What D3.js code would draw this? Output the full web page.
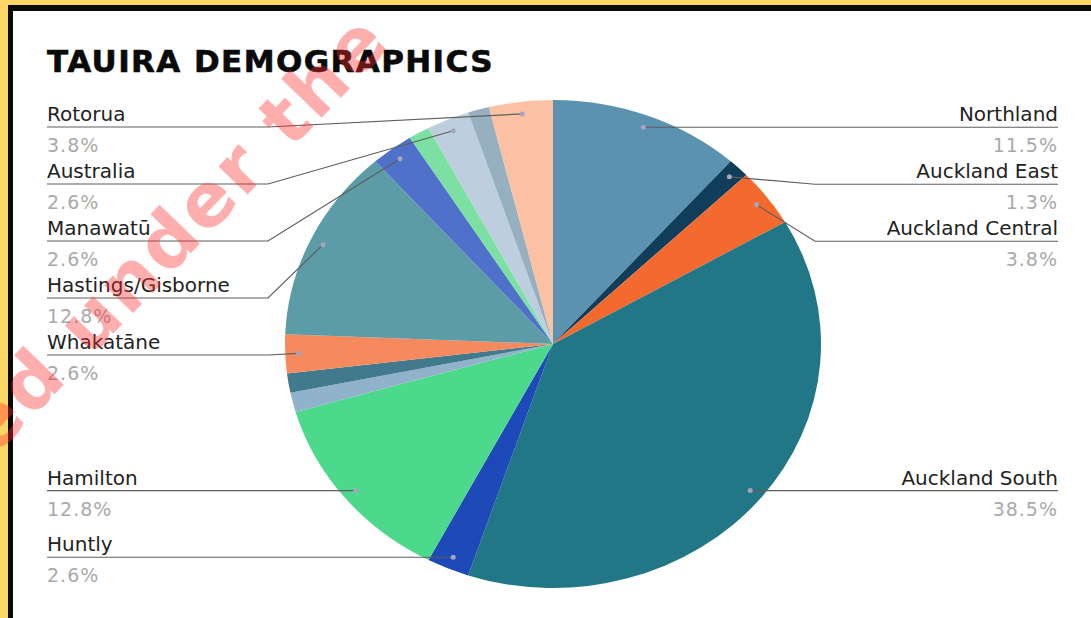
<!DOCTYPE html>
<html>
<head>
<meta charset="utf-8">
<script src="https://cdn.jsdelivr.net/npm/d3@7"></script>
<style>
  body { margin: 0; background: #fff; }
  svg { display: block; }
</style>
</head>
<body>
<div id="chart"></div>
<script>
// slices in clockwise order starting at 12 o'clock
var regions = ["Northland", "Auckland East", "Auckland Central", "Auckland South", "Huntly", "Hamilton",
    "(unlabelled 1)", "(unlabelled 2)", "Whakatāne", "Hastings/Gisborne", "Manawatū",
    "(unlabelled 3)", "Australia", "(unlabelled 4)", "Rotorua"]
var counts = [9, 1, 3, 30, 2, 10, 1, 1, 2, 10, 2, 1, 2, 1, 3]
var showLabel = [true, true, true, true, true, true, false, false, true, true, true, false, true, false, true]
var colors = ["#5a92b0", "#0f3d5a", "#f46a2e", "#217786", "#1d49b9", "#4cd98b",
    "#90b2cb", "#41798d", "#f6895d", "#5b9ca6", "#4f71c9",
    "#7ce0a3", "#bdcfdf", "#97b0c0", "#fcc1a2"]

var W = 1091, H = 618
var cx = 553, cy = 344, ry = 244, rx = 268

var svg = d3.select("#chart").append("svg")
    .attr("width", W)
    .attr("height", H)

svg.append("rect").attr("width", W).attr("height", H).attr("fill", "#fff")

// frame
svg.append("rect").attr("x", 0).attr("y", 0).attr("width", W).attr("height", 5).attr("fill", "#fdd766")
svg.append("rect").attr("x", 0).attr("y", 0).attr("width", 8).attr("height", H).attr("fill", "#fdd766")
svg.append("rect").attr("x", 8).attr("y", 5).attr("width", W - 8).attr("height", 6).attr("fill", "#0a0a0a")
svg.append("rect").attr("x", 8).attr("y", 5).attr("width", 5).attr("height", H).attr("fill", "#0a0a0a")

svg.append("text")
    .attr("x", 47)
    .attr("y", 72)
    .attr("font-family", "DejaVu Sans")
    .attr("font-weight", "bold")
    .attr("font-size", 31)
    .attr("letter-spacing", 1.4)
    .attr("fill", "#0a0a0a")
    .attr("stroke", "#0a0a0a")
    .attr("stroke-width", 0.6)
    .text("TAUIRA DEMOGRAPHICS")

var total = d3.sum(counts)
var data = regions.map(function(r, i){
    return { name: r, value: counts[i], color: colors[i], label: showLabel[i] }
})

var pie = d3.pie().sort(null).value(function(d){ return d.value; })
var arcs = pie(data)

var arc = d3.arc().innerRadius(0).outerRadius(ry)
var dotArc = d3.arc().innerRadius(ry * 0.95).outerRadius(ry * 0.95)
var sx = rx / ry

var pieG = svg.append("g")
    .attr("transform", "translate(" + cx + "," + cy + ") scale(" + sx + ",1)")

pieG.selectAll("path")
    .data(arcs)
    .enter()
    .append("path")
    .attr("d", arc)
    .attr("fill", function(d){ return d.data.color; })

// label layout
var fmt = function(v){ return d3.format(".1f")(v / total * 100) + "%"; }
var labels = arcs.filter(function(d){ return d.data.label; }).map(function(d){
    var c = dotArc.centroid(d)
    var mid = (d.startAngle + d.endAngle) / 2
    return { d: d, x: cx + c[0] * sx, y: cy + c[1], side: mid < Math.PI ? "right" : "left" }
})

var gap = 57, minY = 127
;["left", "right"].forEach(function(side){
    var list = labels.filter(function(l){ return l.side == side; })
        .sort(function(a, b){ return a.y - b.y; })
    var prev = minY - gap
    list.forEach(function(l){
        l.ly = Math.max(l.y, prev + gap)
        prev = l.ly
    })
})

var leftX = 47, leftElbow = 268, rightX = 1058, rightElbow = 815

var lab = svg.append("g")

lab.selectAll(".leader")
    .data(labels)
    .enter()
    .append("path")
    .attr("class", "leader")
    .attr("fill", "none")
    .attr("stroke", "#5e5e5e")
    .attr("stroke-width", 1.2)
    .attr("d", function(l){
        if (l.side == "right")
            return "M" + l.x + "," + l.y + "L" + rightElbow + "," + l.ly + "L" + rightX + "," + l.ly
        return "M" + l.x + "," + l.y + "L" + leftElbow + "," + l.ly + "L" + leftX + "," + l.ly
    })

lab.selectAll(".dot")
    .data(labels)
    .enter()
    .append("circle")
    .attr("class", "dot")
    .attr("cx", function(l){ return l.x; })
    .attr("cy", function(l){ return l.y; })
    .attr("r", 2.5)
    .attr("fill", "#a8a4bc")

lab.selectAll(".name")
    .data(labels)
    .enter()
    .append("text")
    .attr("class", "name")
    .attr("x", function(l){ return l.side == "right" ? rightX : leftX; })
    .attr("y", function(l){ return l.ly - 6; })
    .attr("text-anchor", function(l){ return l.side == "right" ? "end" : "start"; })
    .attr("font-family", "DejaVu Sans")
    .attr("font-size", 20)
    .attr("fill", "#222")
    .text(function(l){ return l.d.data.name; })

lab.selectAll(".pct")
    .data(labels)
    .enter()
    .append("text")
    .attr("class", "pct")
    .attr("x", function(l){ return l.side == "right" ? rightX : leftX; })
    .attr("y", function(l){ return l.ly + 25; })
    .attr("text-anchor", function(l){ return l.side == "right" ? "end" : "start"; })
    .attr("font-family", "DejaVu Sans")
    .attr("font-size", 19)
    .attr("letter-spacing", 1)
    .attr("fill", "#a9a9a9")
    .text(function(l){ return fmt(l.d.data.value); })

// watermark
svg.append("text")
    .attr("transform", "translate(393,44) rotate(-46)")
    .attr("text-anchor", "end")
    .attr("font-family", "DejaVu Sans")
    .attr("font-weight", "bold")
    .attr("font-size", 74)
    .attr("letter-spacing", 3)
    .attr("fill", "#ff2a2a")
    .attr("fill-opacity", 0.38)
    .text("Licensed under the")
</script>
</body>
</html>
